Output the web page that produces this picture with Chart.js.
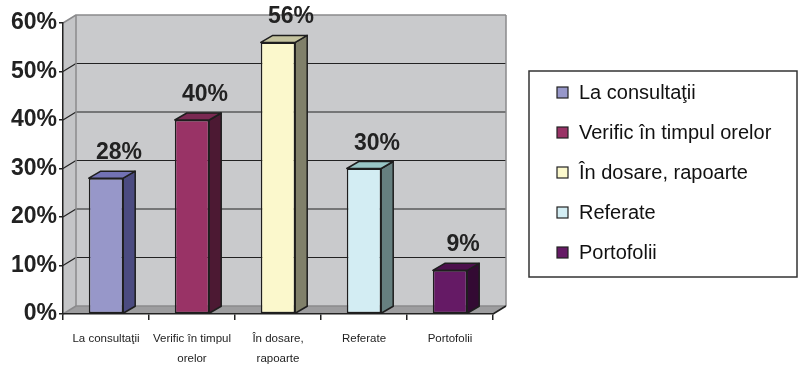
<!DOCTYPE html>
<html>
<head>
<meta charset="utf-8">
<script src="https://cdn.jsdelivr.net/npm/chart.js@4/dist/chart.umd.min.js"></script>
<style>
  html, body { margin: 0; padding: 0; background: #fff; }
  #wrap { width: 799px; height: 366px; position: relative; }
</style>
</head>
<body>
<div id="wrap"><canvas id="chart"></canvas></div>
<script>
// Data
var categories = ["La consultaţii", "Verific în timpul orelor", "În dosare, rapoarte", "Referate", "Portofolii"];
var axisLabels = [["La consultaţii"], ["Verific în timpul", "orelor"], ["În dosare,", "rapoarte"], ["Referate"], ["Portofolii"]];
var values = [28, 40, 56, 30, 9];
var yTicks = [0, 10, 20, 30, 40, 50, 60];

// Face colours: front, side, top
var frontColors = ["#9797c9", "#993366", "#fbf8cc", "#d3edf3", "#651a65"];
var sideColors = ["#4b4b80", "#4c1933", "#80806a", "#668080", "#330a33"];
var topColors = ["#7272b4", "#7a2952", "#c4c39e", "#98c6c6", "#4c104c"];

var WALL_DX = 13, WALL_DY = -8;
var BAR_DX = 12, BAR_DY = -7;

// 3D walls + floor, drawn before the axes
var walls = {
  id: "walls",
  beforeDraw: function (chart) {
    var ctx = chart.ctx, a = chart.chartArea, y = chart.scales.y;
    var L = a.left, R = a.right, T = a.top, B = a.bottom;
    ctx.save();
    ctx.lineJoin = "round";
    // back wall
    ctx.fillStyle = "#c9cacc";
    ctx.fillRect(L + WALL_DX, T + WALL_DY, R - L, B - T);
    // left wall
    ctx.beginPath();
    ctx.moveTo(L, T); ctx.lineTo(L + WALL_DX, T + WALL_DY);
    ctx.lineTo(L + WALL_DX, B + WALL_DY); ctx.lineTo(L, B);
    ctx.closePath();
    ctx.fillStyle = "#c4c5c7";
    ctx.fill();
    // floor
    ctx.beginPath();
    ctx.moveTo(L, B); ctx.lineTo(L + WALL_DX, B + WALL_DY);
    ctx.lineTo(R + WALL_DX, B + WALL_DY); ctx.lineTo(R, B);
    ctx.closePath();
    ctx.fillStyle = "#9d9d9f";
    ctx.fill();

    // gridlines on back and left walls
    yTicks.forEach(function (v) {
      var py = y.getPixelForValue(v);
      var edge = (v === yTicks[0] || v === yTicks[yTicks.length - 1]);
      ctx.strokeStyle = edge ? "#8a8a8c" : "#222";
      ctx.lineWidth = edge ? 1.5 : 1.2;
      ctx.beginPath();
      ctx.moveTo(L, py); ctx.lineTo(L + WALL_DX, py + WALL_DY);
      ctx.lineTo(R + WALL_DX, py + WALL_DY);
      ctx.stroke();
    });
    // wall outlines
    ctx.strokeStyle = "#8a8a8c";
    ctx.lineWidth = 1.5;
    ctx.beginPath();
    ctx.moveTo(L + WALL_DX, B + WALL_DY); ctx.lineTo(L + WALL_DX, T + WALL_DY);
    ctx.moveTo(R + WALL_DX, T + WALL_DY); ctx.lineTo(R + WALL_DX, B + WALL_DY);
    ctx.stroke();
    // floor right edge
    ctx.strokeStyle = "#222";
    ctx.beginPath();
    ctx.moveTo(R, B); ctx.lineTo(R + WALL_DX, B + WALL_DY);
    ctx.stroke();
    ctx.restore();
  }
};

// side + top faces and value labels
var bars3d = {
  id: "bars3d",
  afterDatasetsDraw: function (chart) {
    var ctx = chart.ctx;
    var meta = chart.getDatasetMeta(0);
    ctx.save();
    ctx.lineWidth = 1.5;
    ctx.strokeStyle = "#1e1e1e";
    ctx.lineJoin = "round";
    meta.data.forEach(function (bar, i) {
      var p = bar.getProps(["x", "y", "base", "width"], true);
      var l = p.x - p.width / 2, r = p.x + p.width / 2;
      // side face
      ctx.beginPath();
      ctx.moveTo(r, p.y); ctx.lineTo(r + BAR_DX, p.y + BAR_DY);
      ctx.lineTo(r + BAR_DX, p.base + BAR_DY); ctx.lineTo(r, p.base);
      ctx.closePath();
      ctx.fillStyle = sideColors[i];
      ctx.fill(); ctx.stroke();
      // top face
      ctx.beginPath();
      ctx.moveTo(l, p.y); ctx.lineTo(l + BAR_DX, p.y + BAR_DY);
      ctx.lineTo(r + BAR_DX, p.y + BAR_DY); ctx.lineTo(r, p.y);
      ctx.closePath();
      ctx.fillStyle = topColors[i];
      ctx.fill(); ctx.stroke();
      // value label
      ctx.fillStyle = "#222";
      ctx.font = "bold 23px 'Liberation Sans', Arial, sans-serif";
      ctx.textAlign = "center";
      ctx.textBaseline = "alphabetic";
      ctx.fillText(values[i] + "%", p.x + 13, p.y - 19);
    });
    ctx.restore();
  }
};

// boxed legend on the right
var boxLegend = {
  id: "boxLegend",
  afterDraw: function (chart) {
    var ctx = chart.ctx;
    var bx = chart.width - 270, by = 71, bw = 268, bh = 206;
    ctx.save();
    ctx.fillStyle = "#fff";
    ctx.fillRect(bx, by, bw, bh);
    ctx.strokeStyle = "#333";
    ctx.lineWidth = 1.5;
    ctx.strokeRect(bx, by, bw, bh);
    ctx.font = "20px 'Liberation Sans', Arial, sans-serif";
    ctx.textBaseline = "middle";
    ctx.textAlign = "left";
    categories.forEach(function (c, i) {
      var cy = by + 22 + i * 40;
      ctx.fillStyle = frontColors[i];
      ctx.fillRect(bx + 28, cy - 6, 11, 11);
      ctx.strokeStyle = "#222";
      ctx.lineWidth = 1.2;
      ctx.strokeRect(bx + 28, cy - 6, 11, 11);
      ctx.fillStyle = "#111";
      ctx.fillText(c, bx + 50, cy);
    });
    ctx.restore();
  }
};

new Chart(document.getElementById("chart"), {
  type: "bar",
  data: {
    labels: axisLabels,
    datasets: [{
      data: values,
      backgroundColor: frontColors,
      borderColor: "#1e1e1e",
      borderWidth: 1.5,
      borderSkipped: false,
      categoryPercentage: 1,
      barPercentage: 0.4
    }]
  },
  options: {
    responsive: true,
    maintainAspectRatio: false,
    animation: false,
    layout: { padding: { left: 0, right: 306, top: 23, bottom: 0 } },
    plugins: { legend: { display: false }, tooltip: { enabled: false } },
    scales: {
      x: {
        afterFit: function (s) { s.height = 52; },
        grid: { drawOnChartArea: false, drawTicks: true, tickLength: 6, color: "#222", lineWidth: 1.5, offset: true },
        border: { display: true, color: "#222", width: 1.5 },
        ticks: {
          color: "#222",
          padding: 9,
          maxRotation: 0,
          autoSkip: false,
          font: { family: "'Liberation Sans', Arial, sans-serif", size: 11.5, lineHeight: 1.72 }
        }
      },
      y: {
        min: 0,
        max: 60,
        afterFit: function (s) { s.width = 63; },
        grid: { drawOnChartArea: false, drawTicks: true, tickLength: 4, color: "#222", lineWidth: 1.5 },
        border: { display: true, color: "#222", width: 1.5 },
        ticks: {
          stepSize: 10,
          color: "#222",
          padding: 2,
          font: { family: "'Liberation Sans', Arial, sans-serif", size: 23, weight: "bold" },
          callback: function (v) { return v + "%"; }
        }
      }
    }
  },
  plugins: [walls, bars3d, boxLegend]
});
</script>
</body>
</html>
